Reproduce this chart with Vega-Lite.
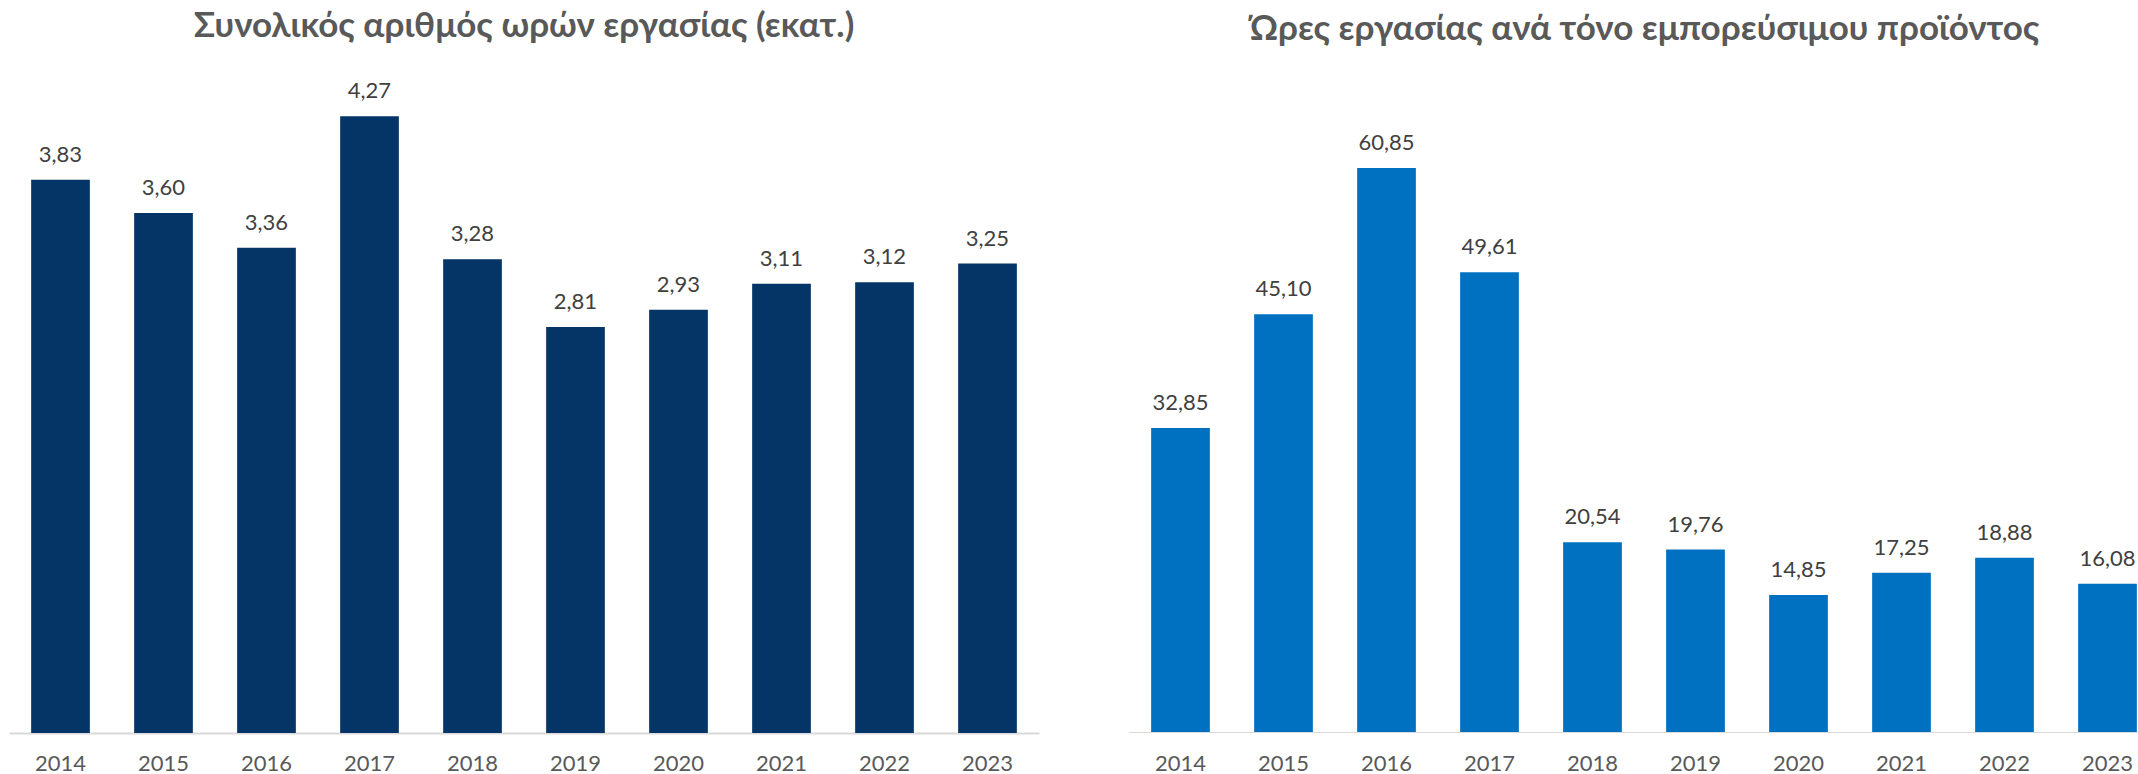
{
  "$schema": "https://vega.github.io/schema/vega-lite/v6.json",
  "padding": {"left": 9, "top": 9, "right": 0, "bottom": 0},
  "spacing": 90,
  "config": {
    "view": {"stroke": null},
    "font": "Lato",
    "locale": {"number": {"decimal": ",", "thousands": ".", "grouping": [3], "currency": ["", " €"]}},
    "title": {"fontSize": 35, "fontWeight": "bold", "color": "#595959", "baseline": "alphabetic", "offset": 36, "anchor": "middle"},
    "axis": {"labelFontSize": 22, "labelColor": "#595959", "ticks": false, "tickSize": 0, "labelPadding": 20, "domainColor": "#D9D9D9", "domainWidth": 2, "title": null, "labelAngle": 0, "grid": false}
  },
  "hconcat": [
    {
      "title": {"text": "Συνολικός αριθμός ωρών εργασίας (εκατ.)"},
      "width": 1030,
      "height": 650,
      "data": {"values": [
        {"year": "2014", "value": 3.83},
        {"year": "2015", "value": 3.60},
        {"year": "2016", "value": 3.36},
        {"year": "2017", "value": 4.27},
        {"year": "2018", "value": 3.28},
        {"year": "2019", "value": 2.81},
        {"year": "2020", "value": 2.93},
        {"year": "2021", "value": 3.11},
        {"year": "2022", "value": 3.12},
        {"year": "2023", "value": 3.25}
      ]},
      "encoding": {
        "x": {"field": "year", "type": "nominal", "sort": null, "scale": {"paddingInner": 0.43, "paddingOuter": 0.215}},
        "y": {"field": "value", "type": "quantitative", "scale": {"domain": [0, 4.5]}, "axis": null}
      },
      "layer": [
        {"mark": {"type": "bar", "color": "#053566"}},
        {"mark": {"type": "text", "dy": -18, "baseline": "alphabetic", "fontSize": 22, "color": "#404040"},
         "encoding": {"text": {"field": "value", "type": "quantitative", "format": ".2f"}}}
      ]
    },
    {
      "title": {"text": "Ώρες εργασίας ανά τόνο εμπορεύσιμου προϊόντος", "dx": 11},
      "width": 1009,
      "height": 650,
      "data": {"values": [
        {"year": "2014", "value": 32.85},
        {"year": "2015", "value": 45.10},
        {"year": "2016", "value": 60.85},
        {"year": "2017", "value": 49.61},
        {"year": "2018", "value": 20.54},
        {"year": "2019", "value": 19.76},
        {"year": "2020", "value": 14.85},
        {"year": "2021", "value": 17.25},
        {"year": "2022", "value": 18.88},
        {"year": "2023", "value": 16.08}
      ]},
      "encoding": {
        "x": {"field": "year", "type": "nominal", "sort": null, "scale": {"paddingInner": 0.43, "paddingOuter": 0.215, "range": [0, 1030]}, "axis": {"domain": false}},
        "y": {"field": "value", "type": "quantitative", "scale": {"domain": [0, 70]}, "axis": null}
      },
      "layer": [
        {"mark": {"type": "bar", "color": "#0070C0", "clip": true}},
        {"mark": {"type": "rule", "color": "#D9D9D9", "strokeWidth": 2, "clip": true}, "encoding": {"x": null, "y": {"datum": 0}}},
        {"mark": {"type": "text", "dy": -18, "baseline": "alphabetic", "fontSize": 22, "color": "#404040", "clip": true},
         "encoding": {"text": {"field": "value", "type": "quantitative", "format": ".2f"}}}
      ]
    }
  ]
}
